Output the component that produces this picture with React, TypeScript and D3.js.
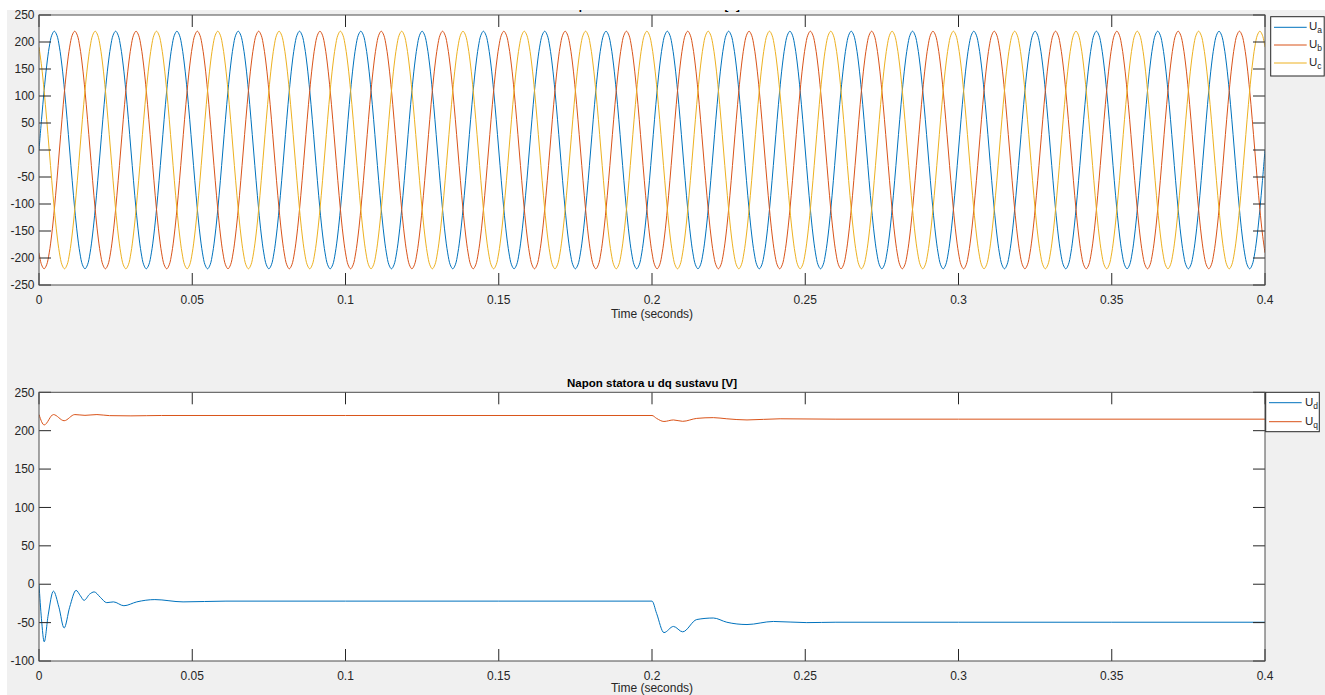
import React from 'react';
import * as d3 from 'd3';

// ---------- data ----------
const timeTicks = [0, 0.05, 0.1, 0.15, 0.2, 0.25, 0.3, 0.35, 0.4];
const timeTickLabels = ['0', '0.05', '0.1', '0.15', '0.2', '0.25', '0.3', '0.35', '0.4'];
const abcTicks = [-250, -200, -150, -100, -50, 0, 50, 100, 150, 200, 250];
const dqTicks = [-100, -50, 0, 50, 100, 150, 200, 250];

const abcNames = ['a', 'b', 'c'];
const dqNames = ['d', 'q'];
const seriesColors = ['#0072BD', '#D95319', '#EDB120'];

// one 20 ms period of U_a, read every 15 degrees (peak 220 V)
const cycleSamplesUa = [
  0, 56.9, 110, 155.6, 190.5, 212.5, 220, 212.5, 190.5, 155.6, 110, 56.9,
  0, -56.9, -110, -155.6, -190.5, -212.5, -220, -212.5, -190.5, -155.6, -110, -56.9,
];
const cyclePeriod = 0.02;
const cyclesShown = 20;
// phase lag of each phase, in samples of the period above (120 deg = 8 samples)
const phaseLagSamples = [0, 8, 16];

const udTime = [
  0, 0.0008, 0.0017, 0.003, 0.0047, 0.0065, 0.0082, 0.01, 0.0121, 0.0135, 0.0147,
  0.0165, 0.018, 0.02, 0.0221, 0.0243, 0.0277, 0.0319, 0.0378, 0.047, 0.061, 0.1,
  0.15, 0.2, 0.2015, 0.2039, 0.207, 0.21, 0.2146, 0.22, 0.2244, 0.231, 0.2396,
  0.2505, 0.26, 0.3, 0.35, 0.4,
];
const udValues = [
  0, -45, -75, -40, -9, -30, -57, -30, -8, -15, -21,
  -13, -10, -17, -24, -23, -28, -23, -20, -23, -22, -22,
  -22, -22, -38, -63, -55, -62, -46, -44, -49.5, -52.5, -48.5,
  -50, -49.5, -49.5, -49.5, -49.5,
];
const uqTime = [
  0, 0.0017, 0.0047, 0.0082, 0.0117, 0.015, 0.0189, 0.023, 0.03, 0.04, 0.1, 0.2,
  0.2015, 0.2039, 0.207, 0.21, 0.2146, 0.22, 0.2244, 0.231, 0.2418, 0.26, 0.3, 0.4,
];
const uqValues = [
  221, 207.5, 221, 213, 221, 220, 221, 219.6, 219.3, 219.8, 219.8, 219.8,
  216, 212, 214, 212.2, 216, 217, 215.5, 214, 215.5, 215, 215, 215,
];

// ---------- layout ----------
const W = 1325;
const H = 695;
const AX_L = 39;
const AX_R = 1265;
const TOP = { y0: 15, y1: 285 };
const BOT = { y0: 392.3, y1: 661 };
const FONT = "'Liberation Sans', Arial, Helvetica, sans-serif";
const TXT = '#262626';
const TICK_LEN = 12;

type Pt = [number, number];

function Axes({
  y0, y1, yTicks, yDomain, series, title, curve, xLabelDy,
}: {
  y0: number; y1: number; yTicks: number[]; yDomain: [number, number];
  series: { pts: Pt[]; color: string }[]; title: string; curve: d3.CurveFactory; xLabelDy: number;
}) {
  const x = d3.scaleLinear().domain([0, 0.4]).range([AX_L, AX_R]);
  const y = d3.scaleLinear().domain(yDomain).range([y1, y0]);
  const line = d3
    .line<Pt>()
    .x((d) => x(d[0]))
    .y((d) => y(d[1]))
    .curve(curve);
  const clipId = `clip${Math.round(y0)}`;
  return (
    <g>
      <rect x={AX_L} y={y0} width={AX_R - AX_L} height={y1 - y0} fill="#fff" />
      <defs>
        <clipPath id={clipId}>
          <rect x={AX_L} y={y0} width={AX_R - AX_L} height={y1 - y0} />
        </clipPath>
      </defs>
      <g clipPath={`url(#${clipId})`}>
        {series.map((s, i) => (
          <path key={i} d={line(s.pts) || ''} fill="none" stroke={s.color} strokeWidth={1} />
        ))}
      </g>
      {timeTicks.map((t, i) => (
        <g key={'xt' + i}>
          <line x1={x(t)} x2={x(t)} y1={y1} y2={y1 - TICK_LEN} stroke={TXT} strokeWidth={1} />
          <line x1={x(t)} x2={x(t)} y1={y0} y2={y0 + TICK_LEN} stroke={TXT} strokeWidth={1} />
          <text x={x(t)} y={y1 + 18.5} textAnchor="middle" fontSize={12} fill={TXT} fontFamily={FONT}>
            {timeTickLabels[i]}
          </text>
        </g>
      ))}
      {yTicks.map((v, i) => (
        <g key={'yt' + i}>
          <line x1={AX_L} x2={AX_L + TICK_LEN} y1={y(v)} y2={y(v)} stroke={TXT} strokeWidth={1} />
          <line x1={AX_R} x2={AX_R - TICK_LEN} y1={y(v)} y2={y(v)} stroke={TXT} strokeWidth={1} />
          <text x={34.5} y={y(v)} dy="0.35em" textAnchor="end" fontSize={12} fill={TXT} fontFamily={FONT}>
            {v}
          </text>
        </g>
      ))}
      <rect x={AX_L} y={y0} width={AX_R - AX_L} height={y1 - y0} fill="none" stroke="#4d4d4d" strokeWidth={1} />
      <text x={(AX_L + AX_R) / 2} y={y1 + xLabelDy} textAnchor="middle" fontSize={12} fill={TXT} fontFamily={FONT}>
        Time (seconds)
      </text>
      <text
        x={(AX_L + AX_R) / 2}
        y={y0 - 5}
        textAnchor="middle"
        fontSize={11.5}
        fontWeight="bold"
        fill="#000"
        fontFamily={FONT}
      >
        {title}
      </text>
    </g>
  );
}

function Legend({
  x0, y0, w, h, names, rowY, lineX0, lineX1, textX,
}: {
  x0: number; y0: number; w: number; h: number; names: string[]; rowY: number[];
  lineX0: number; lineX1: number; textX: number;
}) {
  return (
    <g>
      <rect x={x0} y={y0} width={w} height={h} fill="#fff" stroke="#262626" strokeWidth={1} />
      {names.map((n, i) => (
        <g key={n}>
          <line x1={lineX0} x2={lineX1} y1={rowY[i]} y2={rowY[i]} stroke={seriesColors[i]} strokeWidth={1} />
          <text x={textX} y={rowY[i] + 3} fontSize={11.5} fill={TXT} fontFamily={FONT}>
            U
            <tspan fontSize={8.5} dy={3}>{n}</tspan>
          </text>
        </g>
      ))}
    </g>
  );
}

export default function App() {
  const step = cyclePeriod / cycleSamplesUa.length;
  const nSamples = cycleSamplesUa.length * cyclesShown;
  const abcSeries = abcNames.map((_, k) => {
    const pts: Pt[] = [];
    for (let i = 0; i <= nSamples; i++) {
      const n = cycleSamplesUa.length;
      const idx = (((i - phaseLagSamples[k]) % n) + n) % n;
      pts.push([i * step, cycleSamplesUa[idx]]);
    }
    return { pts, color: seriesColors[k] };
  });
  const dqSeries = [
    { pts: udTime.map((t, i) => [t, udValues[i]] as Pt), color: seriesColors[0] },
    { pts: uqTime.map((t, i) => [t, uqValues[i]] as Pt), color: seriesColors[1] },
  ];

  return (
    <svg
      width={W}
      height={H}
      style={{ position: 'absolute', left: 0, top: 0, display: 'block' }}
      xmlns="http://www.w3.org/2000/svg"
    >
      <rect x={0} y={0} width={W} height={H} fill="#fff" />
      <rect x={7} y={10} width={W - 7} height={H - 10} fill="#f0f0f0" />
      <Axes
        y0={TOP.y0}
        y1={TOP.y1}
        yTicks={abcTicks}
        yDomain={[-250, 250]}
        series={abcSeries}
        title="Napon statora u abc sustavu [V]"
        curve={d3.curveCatmullRom.alpha(0.5)}
        xLabelDy={32.5}
      />
      {/* the figure is cut at its top edge: hide the upper part of the first title */}
      <rect x={0} y={0} width={W} height={10} fill="#fff" />
      <Axes
        y0={BOT.y0}
        y1={BOT.y1}
        yTicks={dqTicks}
        yDomain={[-100, 250]}
        series={dqSeries}
        title="Napon statora u dq sustavu [V]"
        curve={d3.curveMonotoneX}
        xLabelDy={31}
      />
      <Legend
        x0={1270.7}
        y0={16.7}
        w={53.5}
        h={59.3}
        names={abcNames}
        rowY={[27.3, 45, 63]}
        lineX0={1274}
        lineX1={1306.7}
        textX={1309}
      />
      <Legend
        x0={1265.7}
        y0={392.3}
        w={53.6}
        h={39.4}
        names={dqNames}
        rowY={[402.7, 421.7]}
        lineX0={1269}
        lineX1={1301.7}
        textX={1305}
      />
    </svg>
  );
}
